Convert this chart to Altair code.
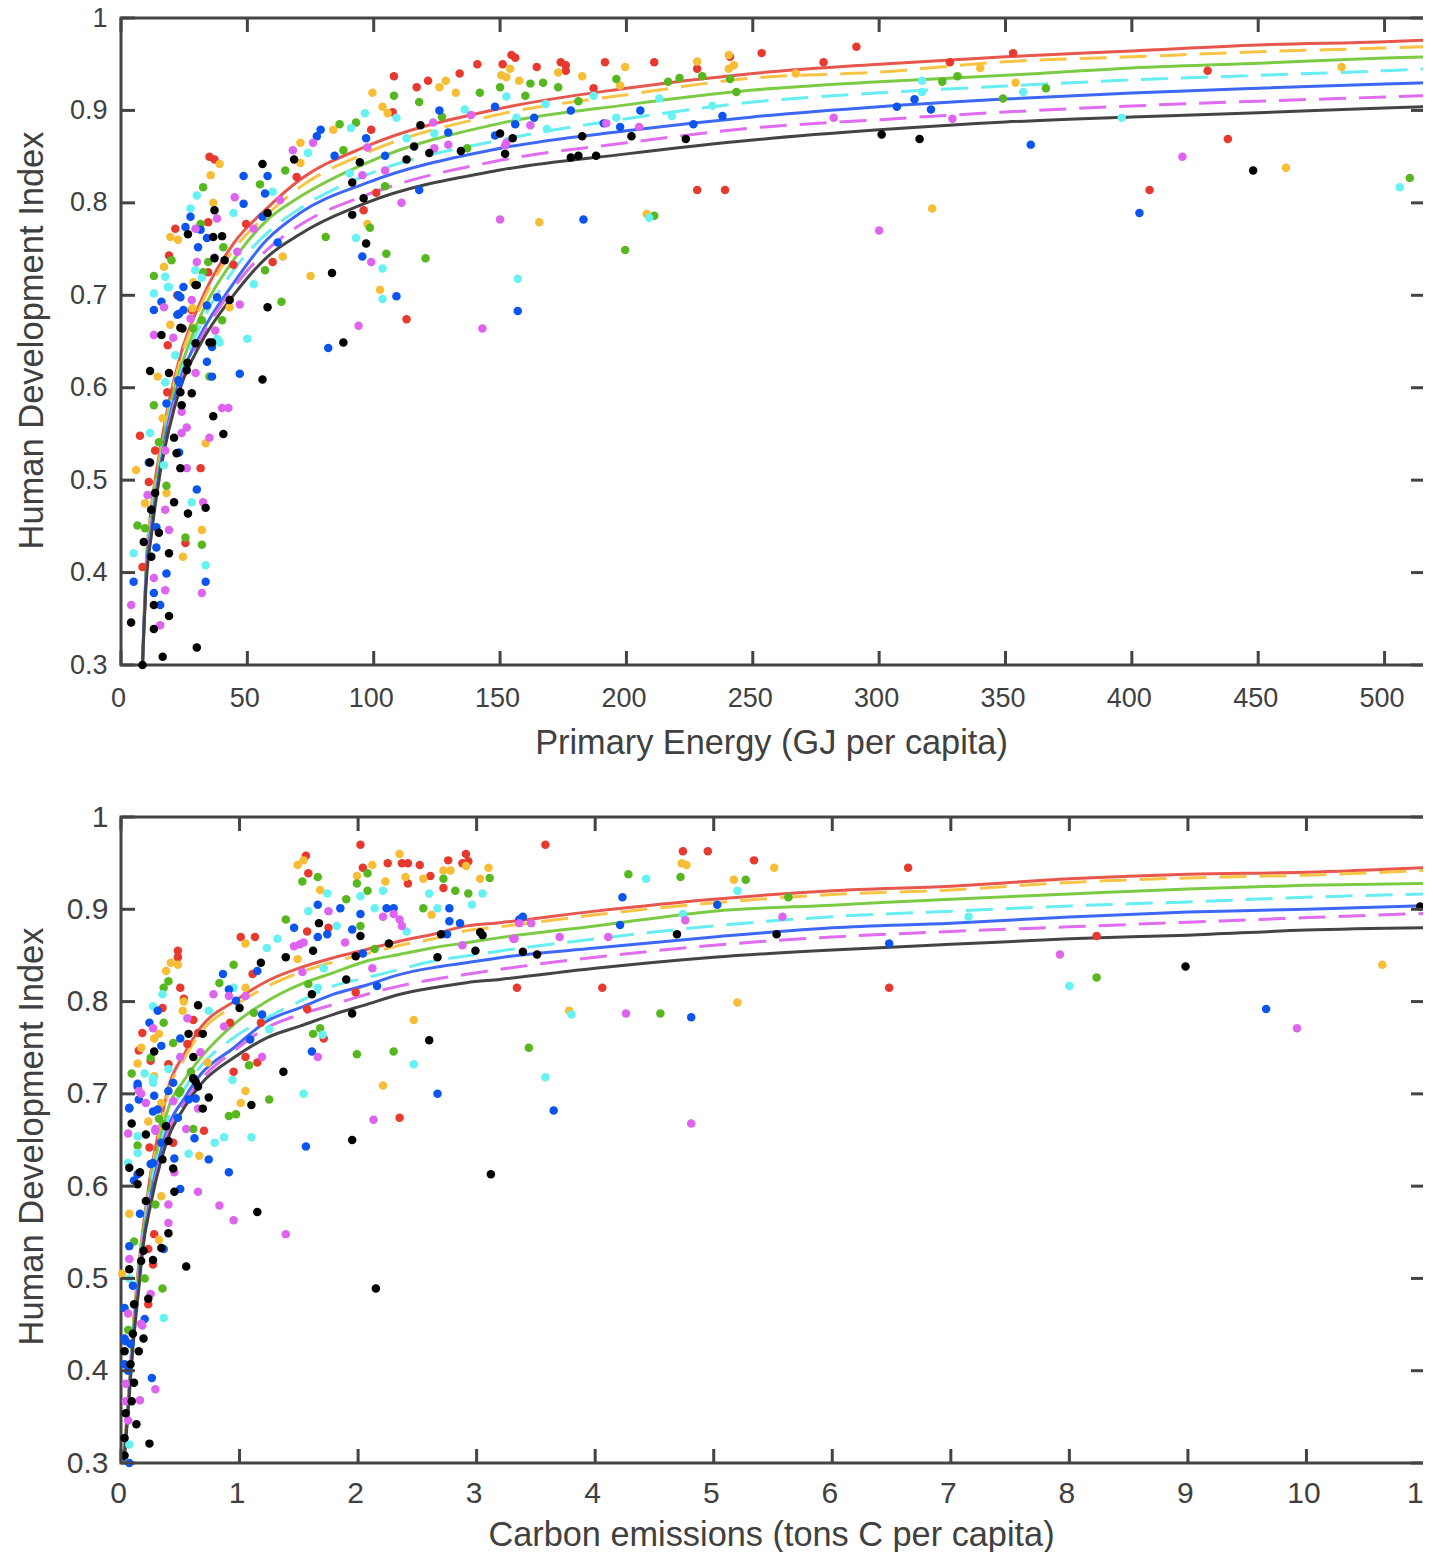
import altair as alt
import pandas as pd

SERIES = ["red", "orange", "green", "cyan", "blue", "magenta", "black"]
DOT_COLORS = ["#E8392F", "#F7BE35", "#56B81E", "#66F2F2", "#0A55F0", "#DE63EE", "#000000"]
LINE_COLORS = ["#E8574E", "#F7C445", "#7CCB45", "#66EEF2", "#3D68F5", "#E06CF0", "#444444"]
DASHED = ["orange", "cyan", "magenta"]

Y_TICKS = [0.3, 0.4, 0.5, 0.6, 0.7, 0.8, 0.9, 1.0]
X1_TICKS = [0, 50, 100, 150, 200, 250, 300, 350, 400, 450, 500]
X2_TICKS = [0, 1, 2, 3, 4, 5, 6, 7, 8, 9, 10, 11]

# Fitted curves, top panel
E_GRID = [8.5, 10, 12, 15, 19, 23.5, 31, 44.5, 57.7, 70.8, 97, 150, 200, 250, 300, 350, 400, 450, 500, 516]
E_RED = [.30, .41, .47, .525, .585, .635, .69, .756, .794, .825, .861, .902, .924, .94, .95, .958, .9643, .9708, .9744, .976]
E_ORANGE = [.30, .41, .465, .52, .58, .63, .685, .749, .787, .817, .854, .896, .917, .935, .9415, .9527, .958, .9635, .9675, .969]
E_GREEN = [.30, .405, .46, .515, .575, .62, .675, .738, .781, .8065, .843, .886, .906, .922, .931, .938, .946, .951, .9567, .958]
E_CYAN = [.30, .40, .455, .51, .57, .615, .665, .727, .767, .794, .83, .868, .891, .909, .919, .9264, .933, .938, .943, .945]
E_BLUE = [.30, .40, .45, .505, .565, .61, .655, .713, .76, .789, .8213, .859, .878, .893, .904, .9123, .9188, .924, .9286, .93]
E_MAGENTA = [.30, .395, .445, .50, .56, .605, .65, .708, .749, .776, .8084, .846, .865, .881, .89, .8983, .9048, .91, .9145, .916]
E_BLACK = [.30, .39, .44, .50, .555, .60, .645, .70, .741, .766, .80, .8355, .853, .868, .879, .8875, .893, .8975, .9026, .904]

# Fitted curves, bottom panel
C_GRID = [.025, .056, .098, .154, .182, .252, .336, .4, .533, .673, .953, 1.234, 1.514, 1.794, 2.075, 2.355, 2.635, 2.915, 3.196, 4, 5, 6, 7, 8, 9, 10, 11]
C_RED = [.31, .36, .44, .52, .55, .615, .67, .707, .743, .772, .80, .8223, .8368, .8476, .8566, .8657, .873, .882, .8855, .898, .911, .92, .925, .933, .938, .94, .945]
C_ORANGE = [.307, .357, .437, .515, .545, .61, .665, .702, .738, .767, .795, .8165, .8318, .843, .852, .861, .868, .877, .881, .894, .907, .916, .921, .929, .934, .937, .942]
C_GREEN = [.305, .355, .435, .515, .545, .605, .655, .685, .715, .7393, .7754, .8007, .8187, .8314, .844, .8512, .8584, .8638, .8693, .882, .898, .9045, .911, .9166, .922, .926, .928]
C_CYAN = [.305, .355, .43, .51, .54, .60, .645, .675, .705, .73, .761, .7826, .8007, .817, .826, .835, .844, .8494, .8548, .868, .882, .892, .898, .9036, .908, .913, .9166]
C_BLUE = [.303, .352, .428, .505, .535, .59, .638, .665, .695, .7212, .75, .779, .7934, .808, .818, .8295, .8368, .842, .8476, .858, .87, .88, .885, .8917, .897, .90, .904]
C_MAGENTA = [.303, .35, .425, .498, .532, .585, .632, .66, .69, .715, .7465, .772, .7862, .797, .808, .817, .824, .8295, .835, .848, .861, .87, .876, .881, .886, .891, .8955]
C_BLACK = [.302, .349, .4215, .494, .53, .581, .627, .653, .685, .7104, .7393, .761, .7736, .7862, .797, .808, .815, .8205, .824, .836, .848, .856, .862, .868, .872, .8775, .88]

# Country points, top panel: (energy, index)
P1_RED = [(291,.969),(253.5,.962),(278,.952),(353,.962),(328,.952),(430,.943),(438,.869),(407,.814),(228,.814),(239,.814),(113,.674),
 (108,.937),(117,.925),(121.5,.932),(134,.94),(141,.95),(151,.95),(154.5,.96),(156,.957),(164.5,.947),(174,.952),(176,.949),(176,.943),(191.5,.952),(211,.952),(228,.945),(241,.958),(187,.924),
 (99,.879),(107.5,.898),(69.5,.828),(49.5,.777),(35,.85),(37,.847),(21.5,.772),(34.5,.779),(19,.743),(101,.811),(96,.792),(60,.736),(44.5,.733),
 (7.5,.548),(11,.498),(31.5,.513),(25.5,.432),(13.5,.532),(8.5,.406),(18.5,.646),(28,.684),(22.3,.70),(34.5,.725),(18.3,.595)]
P1_ORANGE = [(461,.838),(321,.794),(165.5,.779),(208,.788),(99.5,.919),(103.5,.904),(105.5,.897),(126,.925),(128.5,.932),(132.5,.919),(150.5,.938),(152.5,.936),(154,.945),(84,.879),(71,.865),(71,.843),(39,.842),(35.5,.83),(36.5,.80),(19.5,.763),(22.5,.76),(17,.731),(64,.742),(75,.721),(97.5,.777),(102.5,.706),
 (157.5,.932),(173,.941),(182.5,.937),(199.5,.947),(197.5,.927),(228,.953),(240.5,.96),(242.5,.949),(240.5,.945),(267,.94),(340,.946),(483,.947),(354,.93),
 (6,.511),(14.5,.612),(16.5,.567),(33.5,.54),(32,.446),(24.5,.417),(18,.486),(9.5,.475),(19.5,.668),(43,.687),(28.6,.714),(28.3,.686)]
P1_GREEN = [(510,.827),(211,.786),(199.5,.749),(120.5,.74),(81,.763),(63.5,.693),(105,.745),(98.5,.773),(108,.916),(118,.909),(142,.919),(150,.925),(86.5,.885),(93,.887),(88,.857),(65,.835),(55,.82),(32.5,.817),(31.5,.777),(20,.738),(13,.721),(104.5,.818),(127,.893),(137,.859),(57,.727),(40.5,.752),(40,.673),
 (160,.916),(162,.929),(167,.93),(173,.925),(181,.91),(196,.934),(216.5,.931),(221,.935),(230,.937),(241,.934),(243.5,.92),(325,.931),(331,.937),(349,.913),(366,.924),
 (13,.581),(6.5,.451),(9.5,.448),(32,.43),(25.5,.438),(15,.541),(18,.494),(35,.612),(32.5,.725),(34.5,.736),(28.6,.664),(32,.673)]
P1_CYAN = [(506,.817),(157,.718),(209,.784),(50,.653),(96.5,.897),(109,.892),(136,.901),(152.5,.915),(91,.881),(74,.854),(30,.808),(27.5,.794),(44.5,.789),(60,.812),(17.5,.72),(19,.709),(13,.702),(93,.762),(103.5,.729),(103.5,.696),(52.5,.712),(90.5,.832),(124,.875),(113,.87),(38,.653),
 (168,.907),(187,.916),(213,.913),(234,.905),(317,.932),(317,.92),(156.5,.892),(168.5,.88),(196,.892),(218,.894),(357,.92),(396,.892),
 (5,.421),(11.5,.551),(28,.476),(33.5,.408),(17.5,.606),(21.5,.635),(17,.516),(39,.649),(18.5,.709),(29.4,.727),(32,.719),(38.6,.651)]
P1_BLUE = [(360,.863),(403,.789),(183,.782),(157,.683),(47,.615),(36,.612),(48.5,.829),(58,.829),(57,.81),(48.5,.799),(79,.879),(77.5,.872),(84.5,.851),(97,.87),(104.5,.851),(126,.90),(129.5,.876),(148,.904),(148,.873),(156,.885),(118,.814),(56,.785),(31.5,.771),(25.5,.774),(34,.762),(27.5,.785),(62,.757),(95.5,.742),(109,.699),(16,.693),(13,.684),(23.5,.698),(23,.68),(38,.698),(34,.689),(82,.643),
 (163.5,.892),(178,.90),(205.5,.90),(191,.886),(197.5,.882),(226.5,.885),(238,.894),(307,.904),(314,.912),(320.5,.901),
 (34,.628),(23,.53),(11,.519),(30,.49),(18,.399),(5,.39),(33.5,.39),(13,.378),(15.5,.365),(18,.583),(23,.606),(14,.427),(12,.468),(14,.449),(22.7,.70),(24.7,.709),(22.3,.679),(24.7,.684),(36,.644),(22.7,.608),(30.5,.752)]
P1_MAGENTA = [(300,.77),(420,.85),(143,.664),(150,.782),(94,.667),(111,.80),(45,.806),(63,.803),(68,.857),(76,.865),(97.5,.86),(95.5,.83),(104.5,.835),(123.5,.887),(138.5,.895),(124,.859),(129.5,.863),(152.5,.865),(38,.783),(29.5,.772),(52.5,.772),(46,.747),(99,.736),(47,.69),(37,.741),(17,.687),(28,.695),(13,.657),(27.5,.675),
 (162,.884),(192,.886),(205,.882),(282,.892),(329,.891),(152,.862),
 (40,.578),(42.5,.578),(26,.557),(24,.551),(35,.546),(26,.513),(10.5,.484),(17.5,.468),(19,.446),(32.5,.476),(13,.394),(17.5,.381),(32,.378),(4,.365),(15.5,.343),(29.5,.616),(24,.574),(17.5,.532),(20.7,.654),(30,.736),(37.3,.662)]
P1_BLACK = [(448,.835),(316,.869),(301,.874),(56,.842),(68.5,.847),(37,.792),(58,.789),(118.5,.884),(116,.861),(122,.854),(113,.847),(94.5,.844),(91.5,.822),(96,.805),(91.5,.787),(134.5,.856),(150,.875),(155,.87),(152,.853),(83.5,.724),(97,.756),(58,.687),(43,.695),(41,.738),(26.5,.766),(37,.74),(36.5,.763),(40,.764),(30,.711),(16,.657),(23.5,.665),(29.5,.648),(35,.649),(88,.649),
 (182.5,.872),(178,.849),(181,.851),(188,.851),(202,.872),(223.5,.869),
 (56,.609),(11.5,.618),(19,.616),(28,.594),(24,.581),(36.5,.569),(40.5,.55),(22,.529),(11.5,.519),(23.5,.513),(13.5,.486),(21,.476),(26.5,.464),(33.5,.47),(12,.468),(15,.443),(9,.433),(19,.421),(12,.417),(13,.365),(4,.346),(19,.353),(13,.339),(30,.319),(16.5,.309),(8.5,.30),(21,.546),(26,.619),(23.5,.595),(24.3,.664),(26.3,.627),(36,.649),(29.5,.711)]

# Country points, bottom panel: (carbon, index)
P2_RED = [(3.58,.97),(4.74,.963),(4.95,.963),(5.34,.953),(6.64,.945),(3.34,.815),(4.06,.815),(6.48,.815),(8.23,.871),(2.02,.97),(1.56,.958),(1.58,.939),(2.25,.95),(2.37,.95),(2.42,.95),(2.52,.948),(2.42,.928),(2.76,.953),(2.91,.96),(2.88,.95),(2.93,.952),(2.72,.923),(2.61,.936),(2.04,.945),(1.01,.87),(1.13,.87),(.48,.855),(.48,.848),(.5,.815),(.53,.803),(.61,.78),(.35,.793),(.18,.766),(.15,.747),(1.11,.83),(1.57,.876),(1.75,.88),(.92,.777),(1.18,.777),(1.71,.76),(1.98,.81),(1.57,.792),(1.15,.734),(1.05,.74),(.95,.724),(2.35,.674),(.65,.766),(.56,.754),(.7,.66),(.4,.732),(.25,.736),(.27,.515),(.23,.472),(.23,.532),(.28,.548),(.24,.642),(.44,.647)]
P2_ORANGE = [(2.35,.96),(1.49,.948),(1.54,.953),(2.12,.948),(1.99,.936),(2.23,.93),(2.4,.935),(2.55,.933),(2.72,.942),(2.78,.942),(2.91,.947),(3.1,.945),(3.03,.933),(2.62,.894),(1.68,.921),(1.05,.863),(1.05,.815),(1.49,.846),(.48,.84),(.42,.842),(.38,.833),(.53,.8),(.52,.79),(.32,.765),(.28,.76),(.17,.75),(.14,.733),(.73,.734),(2.47,.78),(2.21,.709),(1.05,.703),(1.01,.69),(.23,.67),(.66,.633),(4.73,.95),(4.77,.948),(5.17,.932),(5.51,.945),(5.2,.799),(3.78,.79),(10.64,.84),(.34,.589),(.07,.57),(.32,.542),(.01,.505),(.34,.69),(.28,.719)]
P2_GREEN = [(1.53,.93),(1.66,.935),(1.99,.928),(2.08,.939),(2.08,.92),(1.9,.911),(2.72,.933),(3.11,.934),(2.82,.92),(2.93,.917),(2.55,.901),(1.39,.889),(.95,.84),(.83,.82),(.4,.822),(.36,.815),(.36,.777),(.44,.755),(.25,.739),(.09,.722),(1.99,.743),(2.3,.746),(1.25,.694),(.91,.676),(.97,.678),(1.08,.731),(1.62,.765),(1.68,.771),(1.58,.819),(2.02,.882),(2.14,.857),(1.12,.788),(.59,.724),(.5,.703),(.36,.667),(.14,.644),(4.28,.938),(4.72,.935),(5.27,.932),(5.63,.913),(4.55,.787),(3.44,.75),(8.23,.826),(.35,.489),(.11,.54),(.2,.5),(.06,.444),(.29,.58),(.32,.673),(.49,.701),(.61,.662)]
P2_CYAN = [(1.74,.917),(2.21,.92),(2.02,.914),(2.14,.901),(2.6,.917),(2.67,.901),(2.96,.905),(3.05,.917),(1.58,.898),(1.82,.882),(1.32,.868),(1.23,.858),(.35,.808),(.27,.795),(.74,.79),(.95,.815),(1.25,.77),(.94,.715),(1.54,.7),(2.47,.732),(1.1,.653),(.87,.653),(.79,.647),(.57,.635),(1.7,.764),(.2,.722),(.27,.717),(.4,.727),(.14,.636),(1.71,.836),(1.66,.815),(2.41,.876),(4.43,.933),(5.2,.92),(4.74,.895),(3.8,.786),(7.15,.892),(8.0,.817),(3.58,.718),(.36,.457),(.06,.625),(.07,.5),(.07,.32),(.27,.712),(.14,.654)]
P2_BLUE = [(1.66,.905),(1.85,.901),(2.02,.895),(2.24,.901),(2.3,.901),(2.77,.901),(2.77,.887),(2.86,.885),(1.46,.88),(1.66,.87),(1.74,.873),(1.95,.878),(2.04,.852),(1.15,.833),(.86,.83),(.91,.813),(.97,.801),(1.19,.786),(.31,.79),(.24,.777),(.5,.76),(.34,.752),(1.09,.759),(1.61,.746),(2.67,.7),(1.56,.643),(.28,.698),(.44,.712),(.14,.708),(.07,.684),(.27,.681),(.62,.652),(.74,.629),(.45,.63),(3.36,.889),(2.75,.873),(2.16,.817),(4.23,.913),(3.39,.892),(5.03,.905),(4.21,.883),(4.81,.783),(6.48,.863),(9.66,.792),(3.65,.682),(.91,.615),(.5,.597),(.36,.532),(.26,.392),(.07,.535),(.1,.492),(.2,.456),(.06,.4),(.04,.432),(.16,.57),(.07,.3),(.11,.606),(.25,.624),
 (.07,.685),(.14,.711),(.15,.694),(.31,.683),(.4,.703),(.57,.694),(.63,.695),(.27,.625),(.34,.647),(.14,.613),(.48,.674),(.03,.407),(.03,.435),(.03,.468),(.08,.429)]
P2_MAGENTA = [(3.36,.885),(3.46,.885),(3.31,.868),(3.7,.87),(4.11,.87),(4.76,.888),(5.58,.892),(4.26,.787),(7.92,.851),(9.92,.771),(4.81,.668),(3.32,.868),(2.88,.861),(2.21,.892),(2.3,.895),(2.35,.889),(2.37,.882),(1.51,.862),(1.46,.86),(1.54,.864),(1.89,.864),(1.75,.898),(1.53,.832),(2.12,.836),(.78,.808),(.91,.806),(1.05,.806),(.56,.782),(.87,.773),(.5,.74),(.67,.745),(1.19,.74),(1.66,.74),(2.13,.672),(.06,.657),(.17,.7),(.44,.692),(.29,.66),(.65,.684),(.27,.771),(.45,.615),(.65,.594),(.83,.579),(.95,.563),(1.39,.548),(.4,.58),(.4,.56),(.25,.483),(.18,.449),(.29,.38),(.16,.368),(.04,.386),(.07,.521),(.29,.662),(.55,.662),(.15,.703),(.21,.69),(.06,.462),(.04,.367),(.06,.346),(.17,.451)]
P2_BLACK = [(3.39,.854),(3.51,.851),(4.69,.873),(5.53,.873),(8.98,.838),(3.12,.613),(2.15,.489),(10.96,.903),(1.67,.885),(1.62,.855),(1.39,.848),(1.18,.842),(.65,.796),(1.0,.793),(.57,.765),(.69,.765),(.28,.746),(.61,.74),(.61,.717),(.63,.713),(.74,.696),(.69,.684),(1.1,.688),(1.37,.724),(1.9,.824),(1.95,.787),(2.02,.871),(1.98,.849),(2.26,.863),(2.7,.873),(2.67,.848),(2.99,.855),(3.03,.875),(3.05,.872),(2.6,.758),(1.95,.65),(1.61,.808),(.09,.668),(.21,.656),(.38,.665),(.4,.649),(.07,.62),(.16,.615),(.45,.594),(.21,.584),(.14,.602),(.4,.549),(.34,.533),(1.15,.572),(.55,.513),(.19,.53),(.27,.52),(.17,.519),(.07,.51),(.23,.478),(.11,.472),(.19,.435),(.1,.44),(.15,.421),(.03,.421),(.08,.407),(.11,.387),(.09,.367),(.04,.354),(.13,.342),(.24,.321),(.03,.327),(.03,.308),(.35,.629),(.44,.619),(.61,.716),(.65,.708)]

FRAME = "#444444"
TEXT = "#404040"
FONT = "Liberation Sans"
W = 1304
TICK = 14


def panel(grid, curves, points, x_ticks, x_max, x_title, label_size, height, x_pad, label_off,
          y_label_pad, ty_pad, tx_pad, title_y):
    curve_df = pd.DataFrame(
        [{"x": g, "y": v, "s": s} for s, c in zip(SERIES, curves) for g, v in zip(grid, c)]
    )
    point_df = pd.DataFrame(
        [{"x": x, "y": y, "s": s} for s, p in zip(SERIES, points) for x, y in p]
    )
    xs = alt.Scale(domain=[0, x_max], nice=False, zero=False)
    ys = alt.Scale(domain=[0.3, 1.0], nice=False, zero=False)
    x_axis = alt.Axis(values=x_ticks, ticks=False, domain=False, grid=False, title=x_title,
                      labelFontSize=label_size, labelFont=FONT, labelColor=TEXT, labelPadding=x_pad,
                      labelOverlap=False, labelFlush=False, labelOffset=label_off,
                      titleFontSize=34.3, titleFont=FONT, titleFontWeight="normal",
                      titleColor=TEXT, titlePadding=tx_pad, titleX=650, format="d")
    y_axis = alt.Axis(values=Y_TICKS, ticks=False, domain=False, grid=False, title="Human Development Index",
                      labelFontSize=label_size, labelFont=FONT, labelColor=TEXT, labelPadding=y_label_pad,
                      labelOverlap=False, labelExpr="datum.value == 1 ? '1' : format(datum.value, '.1f')",
                      titleFontSize=34.5, titleFont=FONT, titleFontWeight="normal", titleColor=TEXT,
                      titlePadding=ty_pad, titleY=title_y)
    layers = []
    for s, col in zip(SERIES, LINE_COLORS):
        d = curve_df[curve_df.s == s]
        kw = {"strokeDash": [27, 13]} if s in DASHED else {}
        layers.append(
            alt.Chart(d).mark_line(color=col, strokeWidth=3, clip=True, interpolate="monotone", **kw).encode(
                x=alt.X("x:Q", scale=xs, axis=x_axis), y=alt.Y("y:Q", scale=ys, axis=y_axis))
        )
    layers.append(
        alt.Chart(point_df).mark_circle(size=72, opacity=1).encode(
            x=alt.X("x:Q", scale=xs), y=alt.Y("y:Q", scale=ys),
            color=alt.Color("s:N", scale=alt.Scale(domain=SERIES, range=DOT_COLORS), legend=None))
    )
    xt = alt.Chart(pd.DataFrame({"x": x_ticks}))
    yt = alt.Chart(pd.DataFrame({"y": Y_TICKS}))
    layers.append(xt.mark_rule(color=FRAME, strokeWidth=3).encode(
        x=alt.X("x:Q", scale=xs), y=alt.value(0), y2=alt.value(TICK)))
    layers.append(xt.mark_rule(color=FRAME, strokeWidth=3).encode(
        x=alt.X("x:Q", scale=xs), y=alt.value(height - TICK), y2=alt.value(height)))
    layers.append(yt.mark_rule(color=FRAME, strokeWidth=3).encode(
        y=alt.Y("y:Q", scale=ys), x=alt.value(0), x2=alt.value(TICK)))
    layers.append(yt.mark_rule(color=FRAME, strokeWidth=3).encode(
        y=alt.Y("y:Q", scale=ys), x=alt.value(W - TICK), x2=alt.value(W)))
    return alt.layer(*layers).properties(width=W, height=height)


top = panel(E_GRID, [E_RED, E_ORANGE, E_GREEN, E_CYAN, E_BLUE, E_MAGENTA, E_BLACK],
            [P1_RED, P1_ORANGE, P1_GREEN, P1_CYAN, P1_BLUE, P1_MAGENTA, P1_BLACK],
            X1_TICKS, 516, "Primary Energy (GJ per capita)", 27, 647, 20, -3, 14, 20, 15, 322)
bottom = panel(C_GRID, [C_RED, C_ORANGE, C_GREEN, C_CYAN, C_BLUE, C_MAGENTA, C_BLACK],
               [P2_RED, P2_ORANGE, P2_GREEN, P2_CYAN, P2_BLUE, P2_MAGENTA, P2_BLACK],
               X2_TICKS, 11, "Carbon emissions (tons C per capita)", 30, 646, 15, -3, 13, 17, 10, 319)

chart = alt.vconcat(top, bottom, spacing=38).properties(
    padding={"left": 4, "top": -6, "right": -17, "bottom": 0}, background="white"
).configure_view(stroke=FRAME, strokeWidth=3)

chart.save("out.html", embed_options={"renderer": "svg", "actions": False})
